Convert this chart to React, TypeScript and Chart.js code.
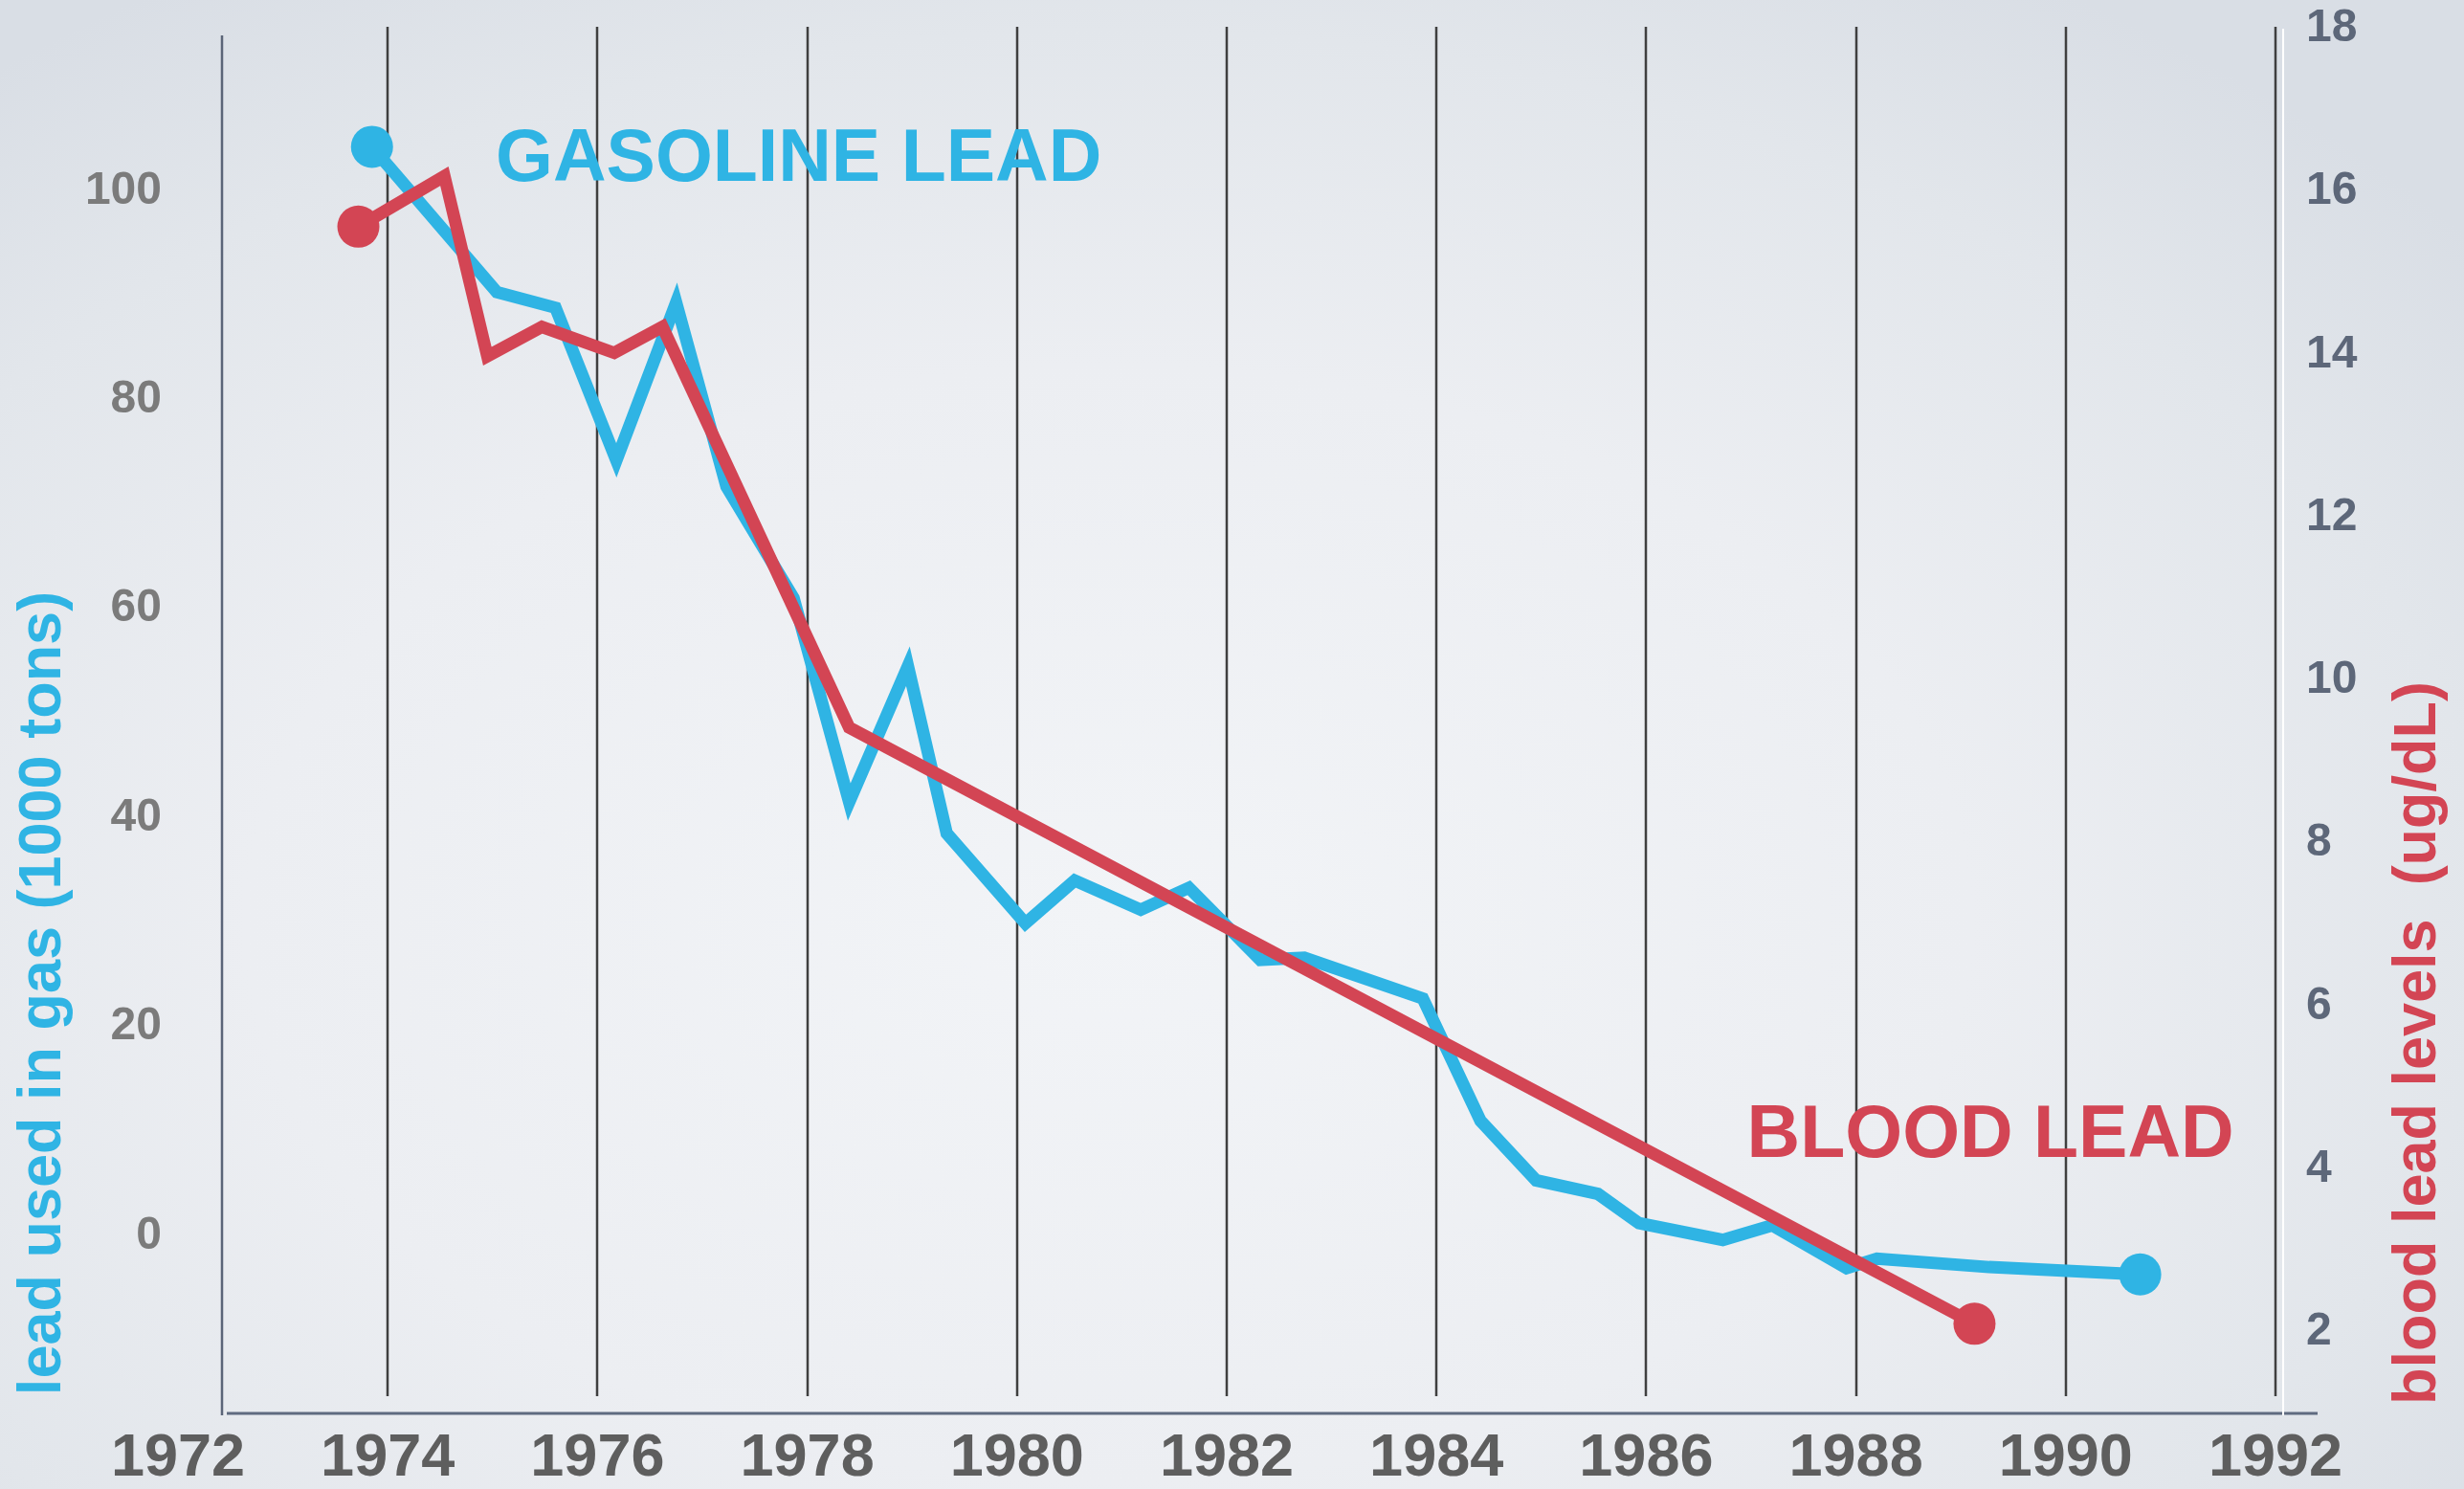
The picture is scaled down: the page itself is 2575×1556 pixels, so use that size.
import React, { useEffect, useRef } from "react";
import { Chart, registerables } from "chart.js";

Chart.register(...registerables);

// ---- data ----
const gasYears = [1973.85, 1975.04, 1975.6, 1976.18, 1976.75, 1977.23, 1977.87, 1978.4, 1978.96, 1979.33, 1980.08, 1980.55, 1981.18, 1981.64, 1982.32, 1982.74, 1983.87, 1984.42, 1984.95, 1985.54, 1985.93, 1986.73, 1987.2, 1987.91, 1988.2, 1989.27, 1990.71];
const gasValues = [104.2, 90.3, 88.8, 74.2, 89.3, 71.7, 61.0, 41.5, 54.5, 38.5, 29.9, 34.0, 31.2, 33.3, 26.4, 26.6, 22.7, 11.0, 5.3, 4.0, 1.2, -0.4, 1.0, -3.1, -2.2, -3.0, -3.7];
const bloodYears = [1973.72, 1974.54, 1974.95, 1975.47, 1976.16, 1976.62, 1978.4, 1989.13];
const bloodValues = [15.57, 16.19, 13.98, 14.34, 14.02, 14.34, 9.42, 2.1];

const yearTicks = [1972, 1974, 1976, 1978, 1980, 1982, 1984, 1986, 1988, 1990, 1992];
const gasTicks = [0, 20, 40, 60, 80, 100];
const bloodTicks = [2, 4, 6, 8, 10, 12, 14, 16, 18];

const gasLabel = "GASOLINE LEAD";
const bloodLabel = "BLOOD LEAD";
const gasAxisTitle = "lead used in gas (1000 tons)";
const bloodAxisTitle = "blood lead levels  (ug/dL)";

const BLUE = "#2fb4e4";
const RED = "#d34554";
const FONT = '"Liberation Sans", Arial, Helvetica, sans-serif';

const W = 2575;
const H = 1556;

const decorPlugin = {
  id: "decor",
  beforeDatasetsDraw(chart: any) {
    const { ctx, chartArea, scales } = chart;
    const xs = scales.x;
    ctx.save();
    // vertical grid lines
    ctx.strokeStyle = "#3f3f3f";
    ctx.lineWidth = 2.5;
    for (const yr of yearTicks.slice(1)) {
      const px = Math.round(xs.getPixelForValue(yr));
      ctx.beginPath();
      ctx.moveTo(px, chartArea.top - 2);
      ctx.lineTo(px, chartArea.bottom - 18);
      ctx.stroke();
    }
    // white line beside last grid line
    const lastPx = Math.round(xs.getPixelForValue(yearTicks[yearTicks.length - 1]));
    ctx.strokeStyle = "#ffffff";
    ctx.lineWidth = 2;
    ctx.beginPath();
    ctx.moveTo(lastPx + 8, chartArea.top);
    ctx.lineTo(lastPx + 8, chartArea.bottom + 2);
    ctx.stroke();
    // left axis line
    const leftPx = Math.round(xs.getPixelForValue(1972.42));
    ctx.strokeStyle = "#5b6578";
    ctx.lineWidth = 2.5;
    ctx.beginPath();
    ctx.moveTo(leftPx, chartArea.top + 7);
    ctx.lineTo(leftPx, chartArea.bottom + 2);
    ctx.stroke();
    // bottom axis line
    ctx.strokeStyle = "#5f6b80";
    ctx.lineWidth = 3;
    ctx.beginPath();
    ctx.moveTo(leftPx + 5, chartArea.bottom);
    ctx.lineTo(lastPx + 7, chartArea.bottom);
    ctx.moveTo(lastPx + 9, chartArea.bottom);
    ctx.lineTo(lastPx + 44, chartArea.bottom);
    ctx.stroke();
    ctx.restore();
  },
  afterDatasetsDraw(chart: any) {
    const { ctx, scales } = chart;
    const xs = scales.x;
    ctx.save();
    ctx.textBaseline = "alphabetic";
    ctx.textAlign = "left";
    ctx.font = `bold 77px ${FONT}`;
    ctx.fillStyle = BLUE;
    ctx.fillText(gasLabel, xs.getPixelForValue(1975.03), scales.yGas.getPixelForValue(100.9));
    ctx.fillStyle = RED;
    ctx.fillText(bloodLabel, xs.getPixelForValue(1986.96), scales.yBlood.getPixelForValue(4.15));

    // axis titles (both read bottom-to-top)
    ctx.font = `bold 63px ${FONT}`;
    ctx.textAlign = "center";
    ctx.fillStyle = BLUE;
    ctx.save();
    ctx.translate(63, 1038);
    ctx.rotate(-Math.PI / 2);
    ctx.fillText(gasAxisTitle, 0, 0);
    ctx.restore();
    ctx.fillStyle = RED;
    ctx.save();
    ctx.translate(2545, 1090);
    ctx.rotate(-Math.PI / 2);
    ctx.fillText(bloodAxisTitle, 0, 0);
    ctx.restore();
    ctx.restore();
  },
};

export default function App() {
  const ref = useRef<HTMLCanvasElement | null>(null);
  useEffect(() => {
    if (!ref.current) return;
    const endRadius = (n: number) => (c: any) => (c.dataIndex === 0 || c.dataIndex === n - 1 ? 22 : 0);
    const noPad = (axis: any) => {
      axis.paddingTop = 0;
      axis.paddingBottom = 0;
      axis.paddingLeft = 0;
      axis.paddingRight = 0;
    };
    const chart = new Chart(ref.current, {
      type: "line",
      data: {
        datasets: [
          {
            label: "blood lead",
            yAxisID: "yBlood",
            data: bloodYears.map((x, i) => ({ x, y: bloodValues[i] })),
            borderColor: RED,
            backgroundColor: RED,
            borderWidth: 13,
            borderJoinStyle: "miter",
            pointRadius: endRadius(bloodYears.length),
            pointHoverRadius: endRadius(bloodYears.length),
            pointBorderWidth: 0,
            pointBackgroundColor: RED,
            tension: 0,
            clip: false,
          },
          {
            label: "gasoline lead",
            yAxisID: "yGas",
            data: gasYears.map((x, i) => ({ x, y: gasValues[i] })),
            borderColor: BLUE,
            backgroundColor: BLUE,
            borderWidth: 13,
            borderJoinStyle: "miter",
            pointRadius: endRadius(gasYears.length),
            pointHoverRadius: endRadius(gasYears.length),
            pointBorderWidth: 0,
            pointBackgroundColor: BLUE,
            tension: 0,
            clip: false,
          },
        ],
      },
      options: {
        responsive: false,
        animation: false,
        devicePixelRatio: 1,
        layout: { padding: { top: 30, left: 0, right: 0, bottom: 0 } },
        plugins: { legend: { display: false }, tooltip: { enabled: false } },
        scales: {
          x: {
            type: "linear",
            min: 1972,
            max: 1992,
            grid: { display: false },
            border: { display: false },
            afterBuildTicks: (axis: any) => {
              axis.ticks = yearTicks.map((v) => ({ value: v }));
            },
            afterFit: (axis: any) => {
              axis.height = 79;
              noPad(axis);
            },
            ticks: {
              autoSkip: false,
              maxRotation: 0,
              padding: 8,
              color: "#5e5e5e",
              font: { family: FONT, size: 63, weight: "bold", lineHeight: 1 },
              callback: (v: any) => String(v),
            },
          },
          yGas: {
            type: "linear",
            position: "left",
            min: -17.0,
            max: 115.5,
            grid: { display: false },
            border: { display: false },
            afterBuildTicks: (axis: any) => {
              axis.ticks = gasTicks.map((v) => ({ value: v }));
            },
            afterFit: (axis: any) => {
              axis.width = 186;
              noPad(axis);
            },
            ticks: {
              padding: 9,
              color: "#7b7b7b",
              font: { family: FONT, size: 48, weight: "bold", lineHeight: 1 },
              callback: (v: any) => String(v),
            },
          },
          yBlood: {
            type: "linear",
            position: "right",
            min: 1.0,
            max: 18,
            grid: { display: false },
            border: { display: false },
            afterBuildTicks: (axis: any) => {
              axis.ticks = bloodTicks.map((v) => ({ value: v }));
            },
            afterFit: (axis: any) => {
              axis.width = 197;
              noPad(axis);
            },
            ticks: {
              padding: 24,
              color: "#5d6779",
              font: { family: FONT, size: 48, weight: "bold", lineHeight: 1 },
              callback: (v: any) => String(v),
            },
          },
        },
      },
      plugins: [decorPlugin],
    } as any);
    return () => chart.destroy();
  }, []);

  return (
    <div
      style={{
        position: "absolute",
        left: 0,
        top: 0,
        width: W,
        height: H,
        overflow: "hidden",
        background:
          "radial-gradient(ellipse 70% 75% at 45% 62%, #f2f4f7 0%, #eceef2 50%, #e2e6eb 80%, #d9dee5 100%)",
      }}
    >
      <canvas ref={ref} width={W} height={H} style={{ width: W, height: H, display: "block" }} />
    </div>
  );
}
